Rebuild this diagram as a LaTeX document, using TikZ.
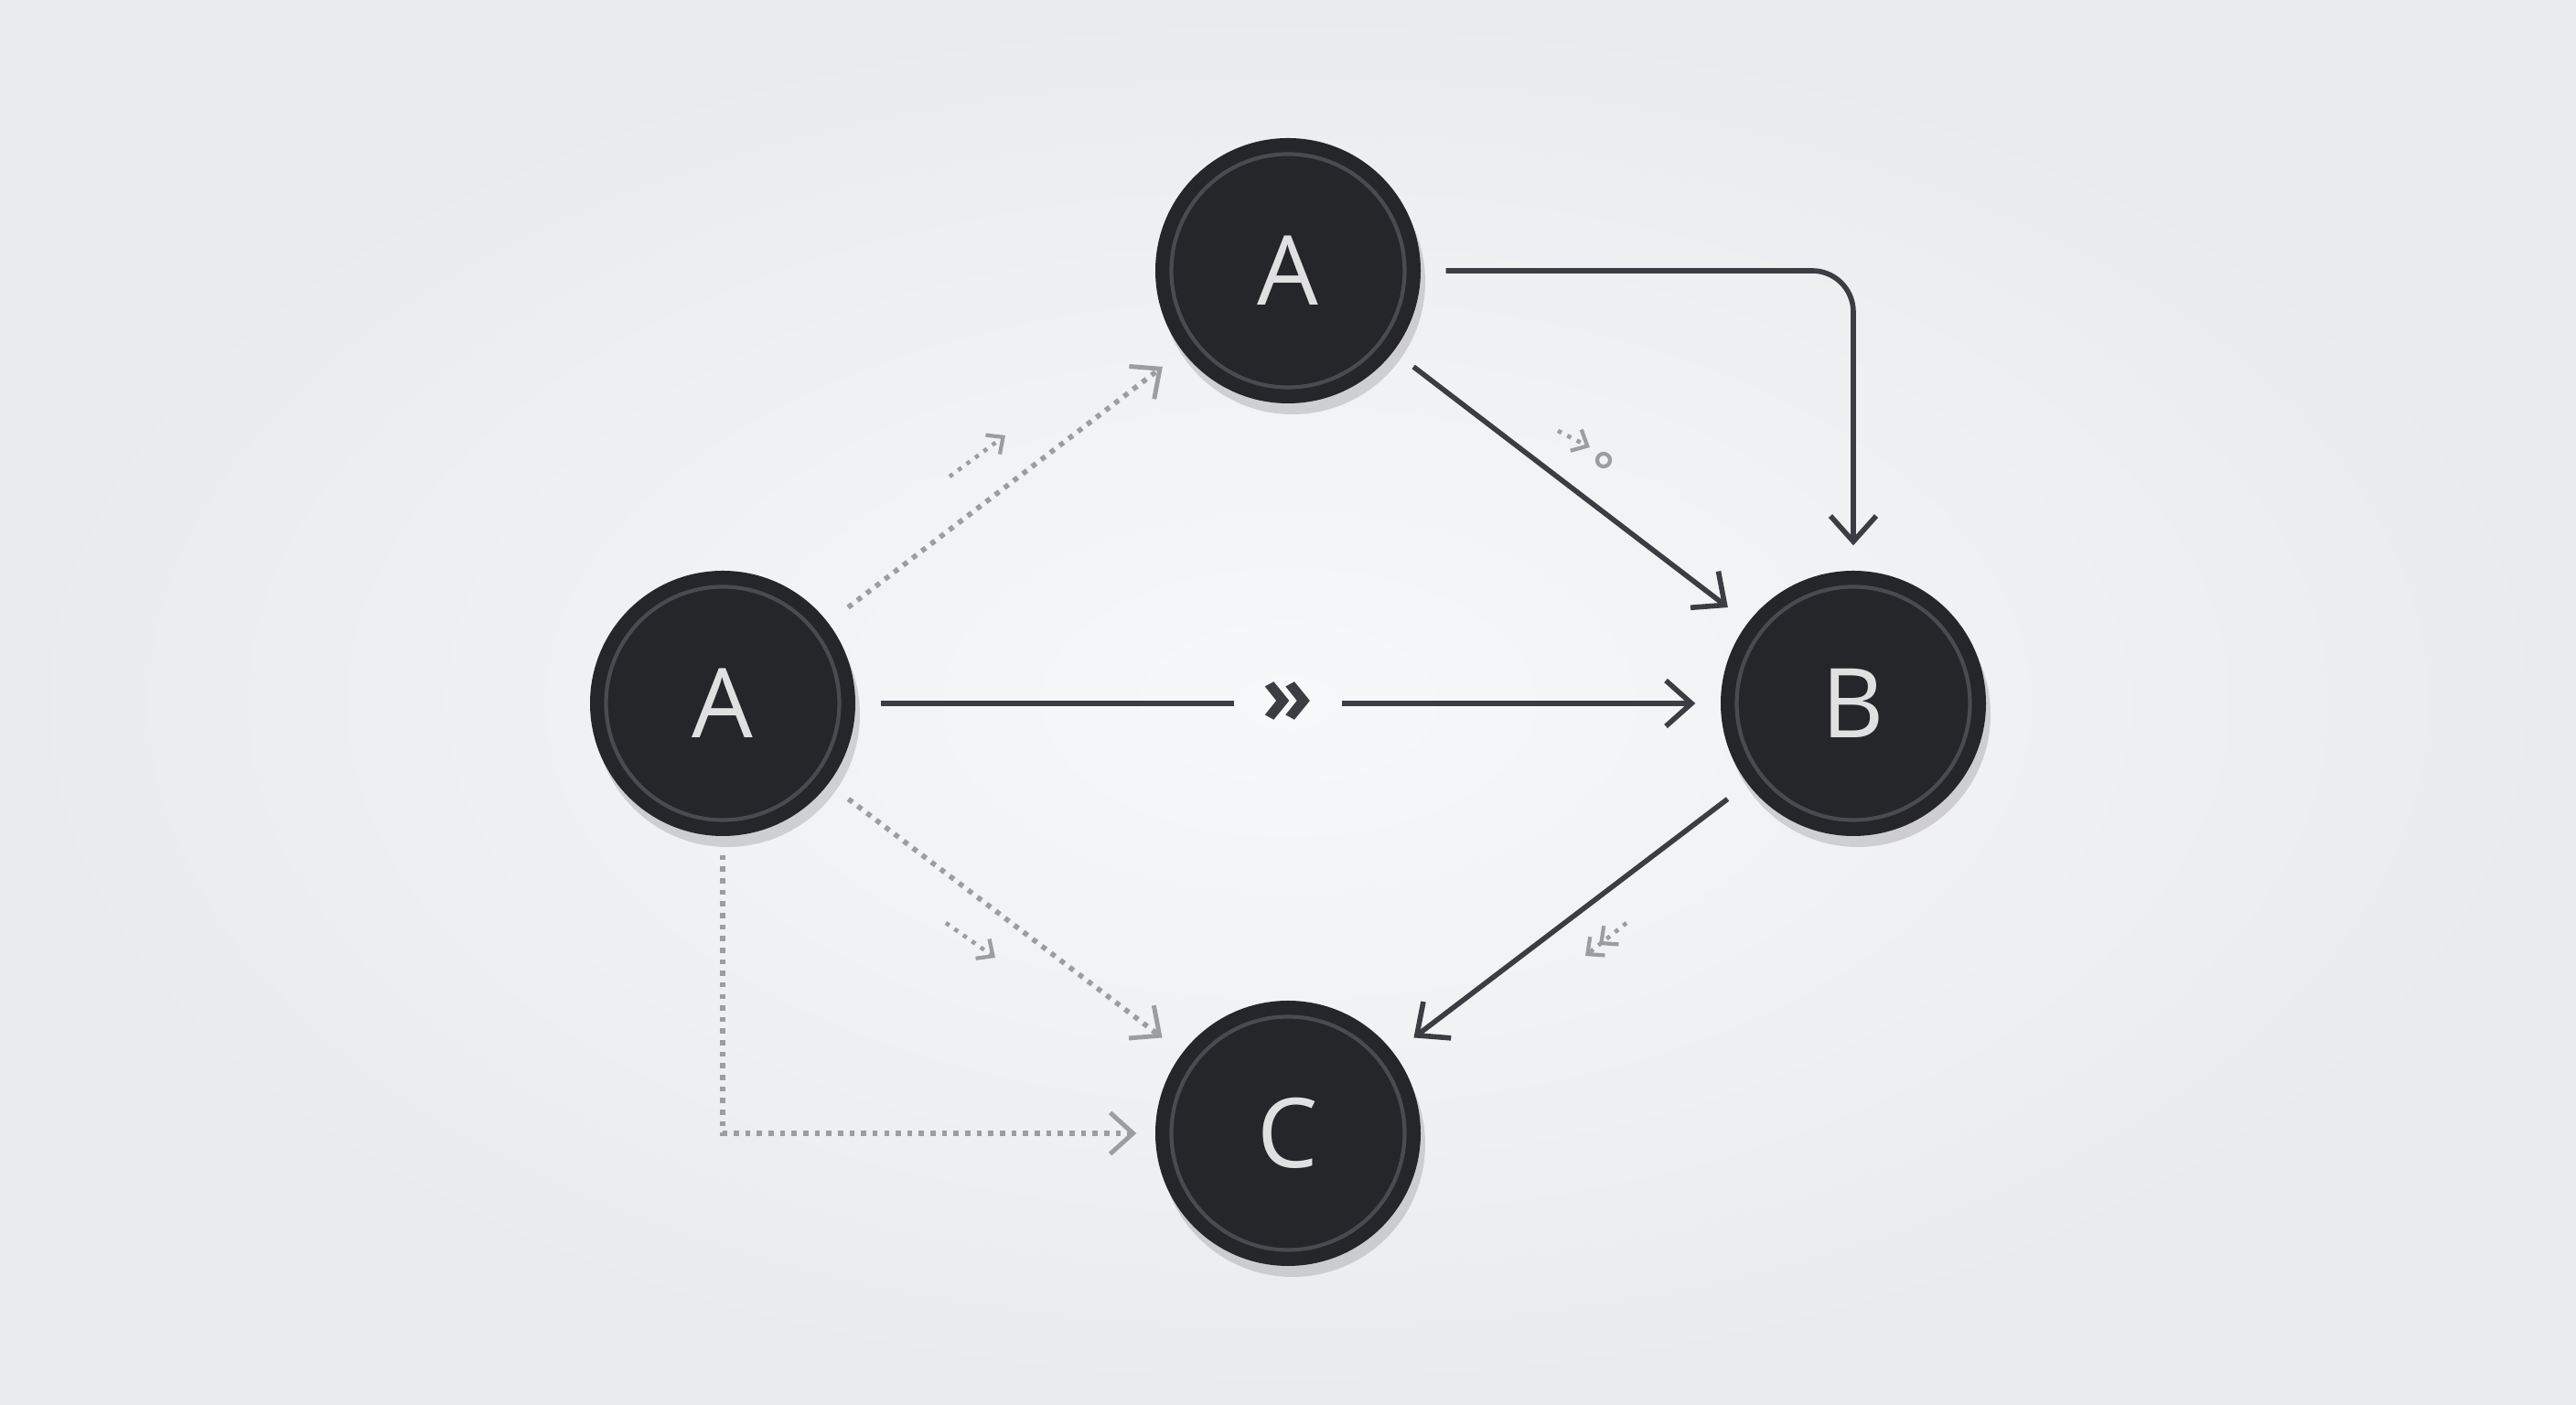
\documentclass[tikz,border=0pt]{standalone}
\usepackage{fontspec}
\setmainfont{Open Sans}
\usetikzlibrary{positioning, arrows.meta, shadows}
\definecolor{nodedark}{HTML}{25262A}
\definecolor{ringgray}{HTML}{4A4B50}
\definecolor{linedark}{HTML}{3C3D42}
\definecolor{dotgray}{HTML}{9C9DA0}
\definecolor{bgouter}{HTML}{E9EBEE}
\definecolor{bginner}{HTML}{F7F8F9}

\begin{document}
\begin{tikzpicture}[
    vertex/.style={circle, fill=nodedark, minimum size=2.9cm, text=white!88!black,
      font=\fontsize{30}{36}\selectfont,
      drop shadow={shadow xshift=0.05cm, shadow yshift=-0.12cm, opacity=0.3}},
    ring/.style={circle, draw=ringgray, line width=1.2pt, minimum size=2.55cm},
    solidedge/.style={draw=linedark, line width=1.6pt, -{Straight Barb[length=0.28cm, width=0.5cm]},
      shorten <=0.27cm, shorten >=0.27cm},
    dotedge/.style={draw=dotgray, line width=1.6pt, dotted, -{Straight Barb[length=0.25cm, width=0.45cm, line width=1.4pt]},
      shorten <=0.27cm, shorten >=0.27cm},
    hint/.style={draw=dotgray, line width=1.3pt, dotted, -{Straight Barb[length=0.14cm, width=0.26cm, line width=1.2pt]}}]
  % background
  \fill[inner color=bginner, outer color=bgouter] (0,0) rectangle (28.16,15.36);
  \useasboundingbox (0,0) rectangle (28.16,15.36);

  % nodes
  \node[vertex] (atop) at (14.08,12.40) {A};
  \node[vertex] (aleft) at (7.90,7.67) {A};
  \node[vertex] (b) at (20.26,7.67) {B};
  \node[vertex] (c) at (14.08,2.97) {C};
  \foreach \n in {atop, aleft, b, c}
    \node[ring] at (\n) {};

  % solid connectors
  \draw[solidedge, rounded corners=0.45cm] (atop.east) -| (b.north);
  \draw[solidedge] (atop) -- (b);
  \node[font=\fontsize{26}{30}\selectfont\bfseries, text=linedark, inner sep=0.3cm] (mid) at (14.08,7.67) {»};
  \draw[draw=linedark, line width=1.6pt, shorten <=0.27cm] (aleft) -- (mid);
  \draw[solidedge, shorten <=0cm] (mid) -- (b);
  \draw[solidedge] (b) -- (c);

  % dotted connectors
  \draw[dotedge] (aleft) -- (atop);
  \draw[dotedge] (aleft) -- (c);
  \draw[dotedge, shorten <=0.2cm, shorten >=0.2cm] (aleft.south) |- (c.west);

  % small hints
  \draw[hint] (10.38,10.15) -- (10.99,10.60);
  \draw[hint] (17.03,10.65) -- (17.38,10.47);
  \draw[dotgray, line width=1.2pt] (17.53,10.33) circle (0.07);
  \draw[hint] (10.34,5.27) -- (10.88,4.89);
  \draw[hint, -{Straight Barb[length=0.14cm, width=0.26cm, line width=1.2pt] Straight Barb[length=0.14cm, width=0.26cm, line width=1.2pt]}] (17.78,5.27) -- (17.33,4.91);
\end{tikzpicture}
\end{document}
